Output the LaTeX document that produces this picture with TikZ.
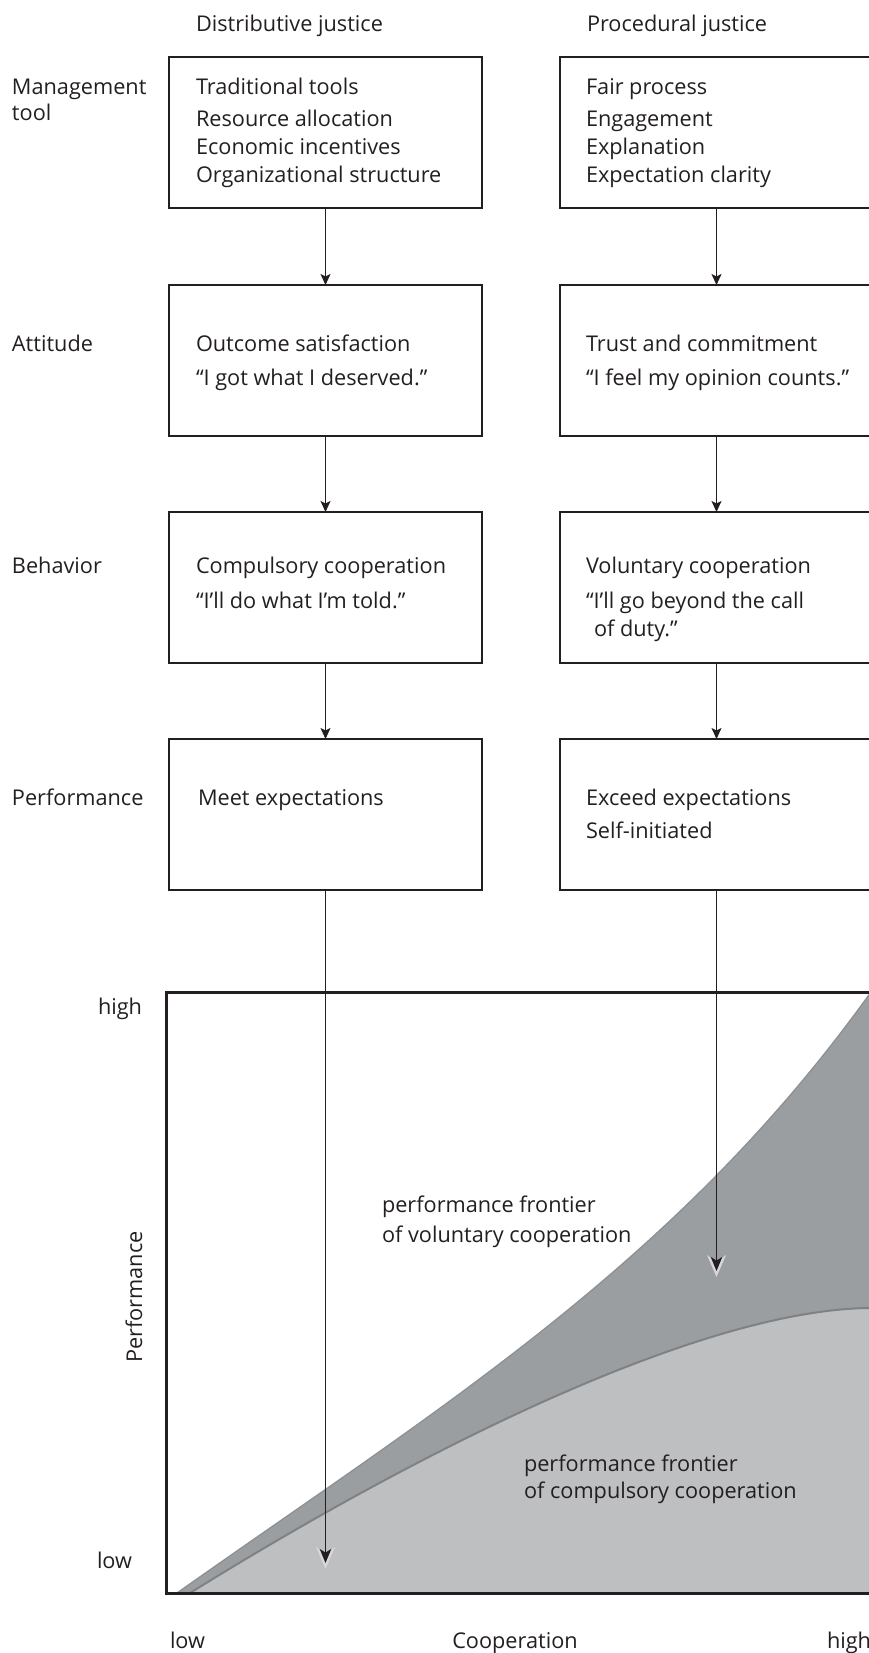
\documentclass[tikz,border=0pt]{standalone}
\usepackage{fontspec}
\setmainfont{Open Sans}
\usetikzlibrary{arrows.meta}
\definecolor{ink}{HTML}{231F20}
\definecolor{darkfill}{HTML}{9B9EA1}
\definecolor{lightfill}{HTML}{BEBFC1}
\definecolor{edgeA}{HTML}{8E9194}
\definecolor{edgeB}{HTML}{7F8285}
\definecolor{halo}{HTML}{D6D7D9}
\begin{document}
\begin{tikzpicture}[x=1pt,y=-1pt,
  every node/.style={font=\fontsize{21.7}{28}\selectfont, text=ink, inner sep=0pt, outer sep=0pt},
  txt/.style={anchor=base west},
  box/.style={draw=ink, line width=1.4pt, minimum width=313pt, minimum height=151pt, anchor=north west},
  arr/.style={draw=ink, line width=1.4pt, -{Stealth[length=11pt,width=10pt,inset=2.5pt]}},
  haloarr/.style={draw=halo, line width=1.4pt, -{Stealth[length=22pt,width=19pt,inset=7pt]}},
  bigarr/.style={draw=ink, line width=1.4pt, -{Stealth[length=14pt,width=11.5pt,inset=3.5pt]}},
  frame/.style={draw=ink, line width=3pt, line join=miter}
]
\useasboundingbox (0,0) rectangle (869,1653);
\clip (0,0) rectangle (869,1653);

% column headers
\node[txt] (hd) at (196,32) {Distributive justice};
\node[txt] (hp) at (587,32) {Procedural justice};

% row labels
\node[txt] (r1a) at (12,94.5) {Management};
\node[txt] (r1b) at (12,121) {tool};
\node[txt] (r2) at (12,351) {Attitude};
\node[txt] (r3) at (12,573) {Behavior};
\node[txt] (r4) at (12,805) {Performance};

% boxes
\node[box] (L1) at (169,57) {};
\node[box] (L2) at (169,285) {};
\node[box] (L3) at (169,512) {};
\node[box] (L4) at (169,739) {};
\node[box] (R1) at (560,57) {};
\node[box] (R2) at (560,285) {};
\node[box] (R3) at (560,512) {};
\node[box] (R4) at (560,739) {};

% box texts
\node[txt] (t11) at (196,94.5) {Traditional tools};
\node[txt] (t12) at (196,127) {Resource allocation};
\node[txt] (t13) at (196,154.6) {Economic incentives};
\node[txt] (t14) at (196,183) {Organizational structure};
\node[txt] (u11) at (586,94.5) {Fair process};
\node[txt] (u12) at (586,127) {Engagement};
\node[txt] (u13) at (586,154.6) {Explanation};
\node[txt] (u14) at (586,183) {Expectation clarity};

\node[txt] (t21) at (196,351) {Outcome satisfaction};
\node[txt] (t22) at (196,385.6) {“I got what I deserved.”};
\node[txt] (u21) at (586,351) {Trust and commitment};
\node[txt] (u22) at (586,385.6) {“I feel my opinion counts.”};

\node[txt] (t31) at (196,573) {Compulsory cooperation};
\node[txt] (t32) at (196,608) {“I’ll do what I’m told.”};
\node[txt] (u31) at (586,573) {Voluntary cooperation};
\node[txt] (u32) at (586,608) {“I’ll go beyond the call};
\node[txt] (u33) at (594,636.6) {of duty.”};

\node[txt] (t41) at (198,805) {Meet expectations};
\node[txt] (u41) at (586,805) {Exceed expectations};
\node[txt] (u42) at (586,838) {Self-initiated};

% arrows between boxes
\draw[arr] (L1.south) -- (L2.north);
\draw[arr] (L2.south) -- (L3.north);
\draw[arr] (L3.south) -- (L4.north);
\draw[arr] (R1.south) -- (R2.north);
\draw[arr] (R2.south) -- (R3.north);
\draw[arr] (R3.south) -- (R4.north);

% chart fills
\begin{scope}
\clip (166,992) rectangle (880,1593);
\fill[darkfill] (177,1593) .. controls (450,1400) and (700,1250) .. (900,950) -- (900,1593) -- cycle;
\fill[lightfill] (190,1593) .. controls (420,1450) and (700,1310) .. (869,1308) -- (900,1310) -- (900,1593) -- cycle;
\draw[edgeA, line width=1.3pt] (177,1593) .. controls (450,1400) and (700,1250) .. (900,950);
\draw[edgeB, line width=2pt] (190,1593) .. controls (420,1450) and (700,1310) .. (869,1308) -- (900,1310);
\end{scope}

% chart frame
\draw[frame] (880,992) -- (166,992) -- (166,1593) -- (880,1593);

% long arrows (light halo under a black head)
\coordinate (haloL) at (325.5,1569);
\coordinate (tipL) at (325.5,1563);
\coordinate (haloR) at (716.5,1277);
\coordinate (tipR) at (716.5,1271);
\draw[haloarr] (L4.south) -- (haloL);
\draw[haloarr] (R4.south) -- (haloR);
\draw[bigarr] (L4.south) -- (tipL);
\draw[bigarr] (R4.south) -- (tipR);

% chart labels
\node[txt] (yh) at (98,1014) {high};
\node[txt] (yl) at (97,1568) {low};
\node[rotate=90] (ylab) at (134,1297) {Performance};
\node[txt] (xl) at (170,1648) {low};
\node[anchor=base] (xlab) at (515,1648) {Cooperation};
\node[txt] (xh) at (827,1648) {high};

\node[txt] (v1) at (382,1212) {performance frontier};
\node[txt] (v2) at (382,1242) {of voluntary cooperation};
\node[txt] (c1) at (524,1471) {performance frontier};
\node[txt] (c2) at (524,1498) {of compulsory cooperation};
\end{tikzpicture}
\end{document}
